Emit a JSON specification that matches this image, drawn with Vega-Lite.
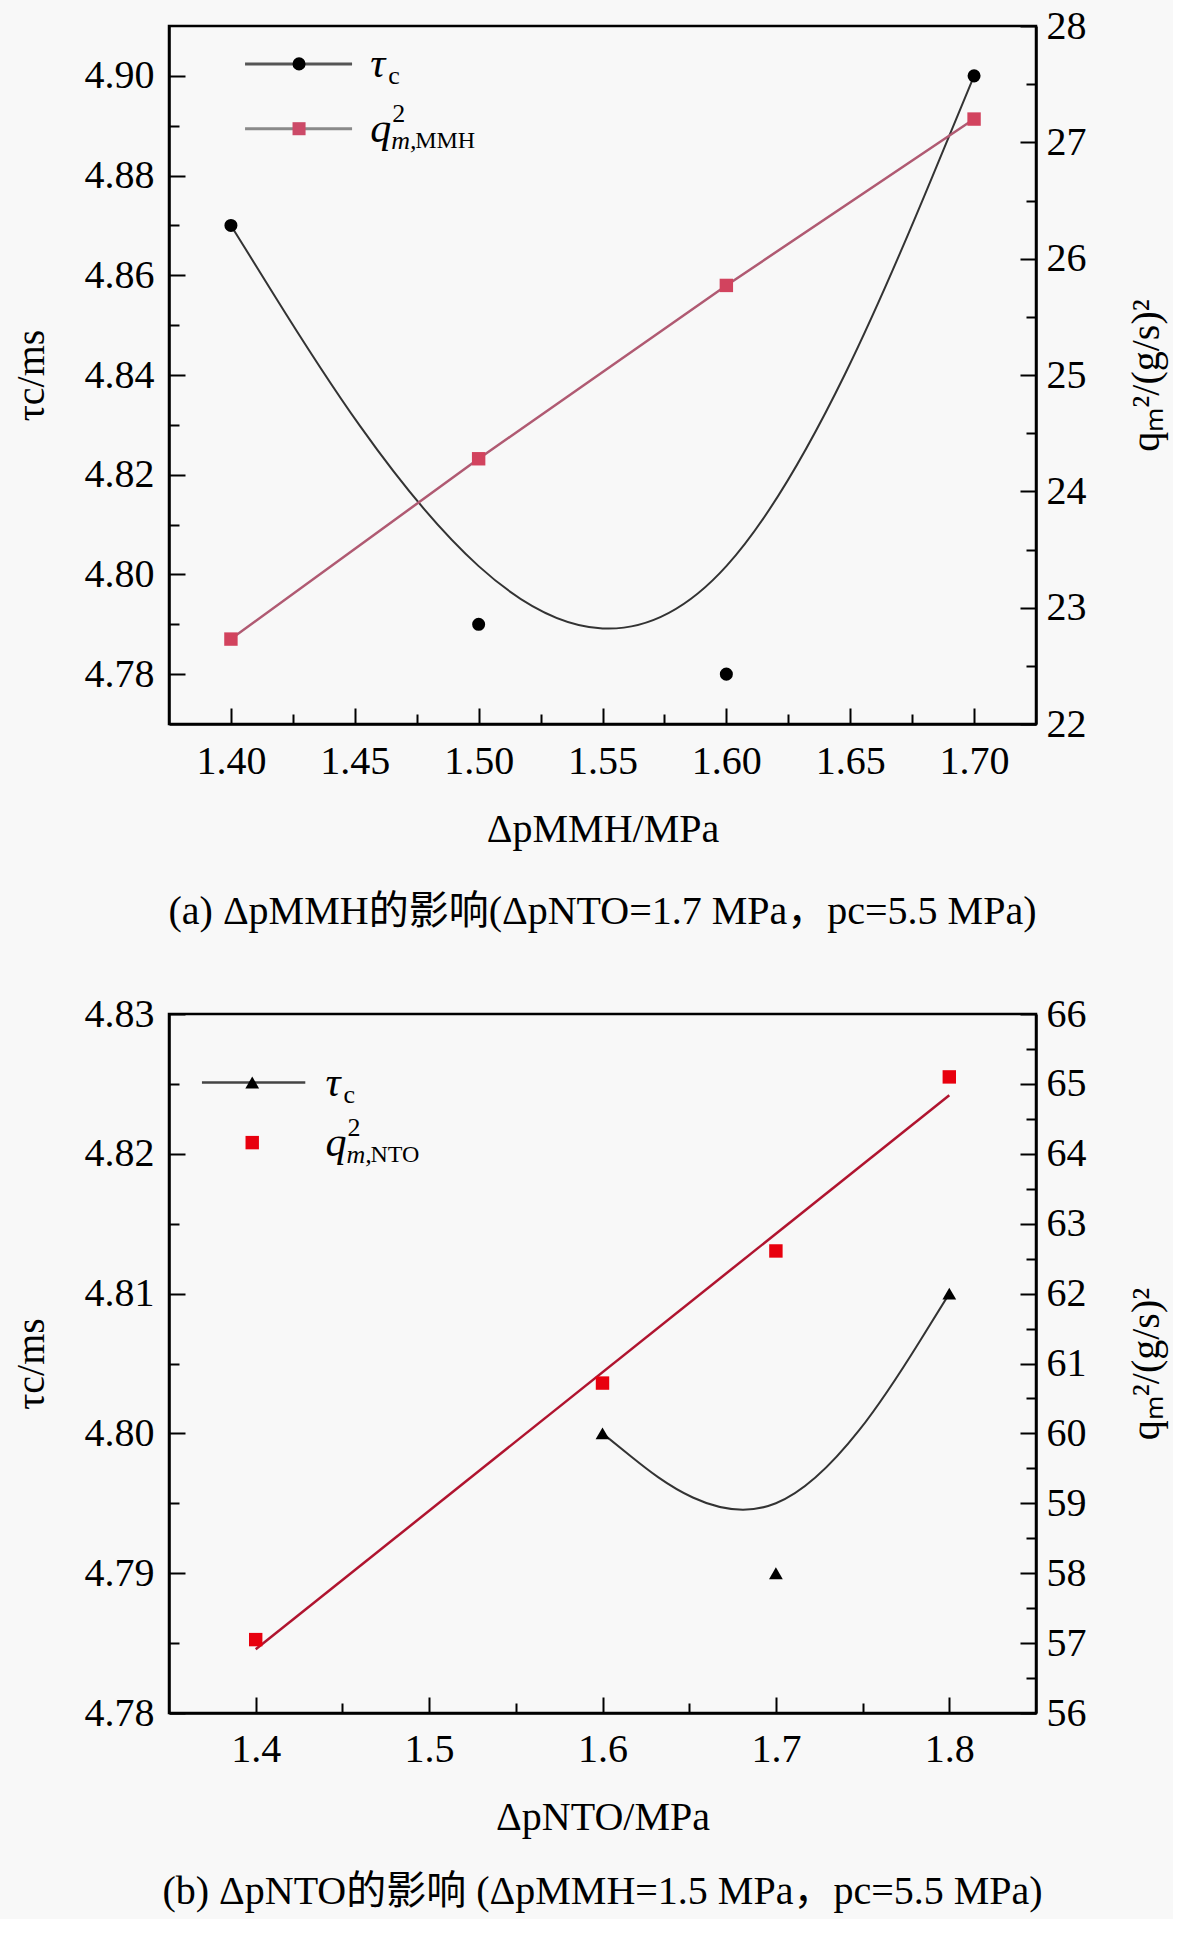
{
  "$schema": "https://vega.github.io/schema/vega-lite/v6.json",
  "background": "#f8f8f8",
  "padding": {"left": 9, "top": 4, "right": 5, "bottom": 5},
  "spacing": 58,
  "config": {
    "font": "Liberation Serif",
    "view": {"stroke": "black", "strokeWidth": 2.5},
    "axis": {
      "grid": false,
      "domainColor": "black",
      "domainWidth": 2.5,
      "tickColor": "black",
      "tickWidth": 2,
      "labelFont": "Liberation Serif",
      "labelFontSize": 40,
      "labelColor": "black",
      "labelFlush": false,
      "labelOverlap": false,
      "titleFont": "Liberation Serif",
      "titleFontSize": 40,
      "titleFontWeight": "normal",
      "titleColor": "black"
    },
    "title": {"font": "Liberation Serif, Noto Sans CJK SC", "fontSize": 40, "fontWeight": "normal", "color": "black"}
  },
  "datasets": {
    "tauA": [
      {"dp": 1.4, "tau": 4.87},
      {"dp": 1.5, "tau": 4.79},
      {"dp": 1.6, "tau": 4.78},
      {"dp": 1.7, "tau": 4.9}
    ],
    "qA": [
      {"dp": 1.4, "q2": 22.73},
      {"dp": 1.5, "q2": 24.28},
      {"dp": 1.6, "q2": 25.77},
      {"dp": 1.7, "q2": 27.2}
    ],
    "tauB": [
      {"dp": 1.6, "tau": 4.8},
      {"dp": 1.7, "tau": 4.79},
      {"dp": 1.8, "tau": 4.81}
    ],
    "qB": [
      {"dp": 1.4, "q2": 57.05},
      {"dp": 1.6, "q2": 60.72},
      {"dp": 1.7, "q2": 62.61},
      {"dp": 1.8, "q2": 65.1}
    ]
  },
  "vconcat": [
    {
      "width": 867,
      "height": 698,
      "title": {"text": "(a) ΔpMMH的影响(ΔpNTO=1.7 MPa，pc=5.5 MPa)", "orient": "bottom", "offset": 43},
      "layer": [
        {
          "data": {"name": "tauA"},
          "layer": [
            {
              "mark": {"type": "line", "interpolate": "basis", "color": "#333333", "strokeWidth": 2},
              "encoding": {
                "x": {
                  "field": "dp",
                  "type": "quantitative",
                  "scale": {"domain": [1.375, 1.725], "nice": false, "zero": false},
                  "axis": {
                    "title": "ΔpMMH/MPa",
                    "titlePadding": 22,
                    "values": [1.4, 1.425, 1.45, 1.475, 1.5, 1.525, 1.55, 1.575, 1.6, 1.625, 1.65, 1.675, 1.7],
                    "labelExpr": "abs(datum.value*20-round(datum.value*20))<0.001 ? format(datum.value,'.2f') : ''",
                    "labelPadding": 33,
                    "tickSize": {"condition": {"test": "abs(datum.value*20-round(datum.value*20))<0.001", "value": -16}, "value": -10}
                  }
                },
                "y": {
                  "field": "tau",
                  "type": "quantitative",
                  "scale": {"domain": [4.77, 4.91], "nice": false, "zero": false},
                  "axis": {
                    "orient": "left",
                    "title": "τc/ms",
                    "titlePadding": 33,
                    "values": [4.78, 4.79, 4.8, 4.81, 4.82, 4.83, 4.84, 4.85, 4.86, 4.87, 4.88, 4.89, 4.9],
                    "labelExpr": "abs(datum.value*50-round(datum.value*50))<0.001 ? format(datum.value,'.2f') : ''",
                    "labelPadding": 31,
                    "tickSize": {"condition": {"test": "abs(datum.value*50-round(datum.value*50))<0.001", "value": -16}, "value": -10}
                  }
                }
              }
            },
            {
              "mark": {"type": "point", "shape": "circle", "filled": true, "color": "black", "size": 170, "opacity": 1},
              "encoding": {
                "x": {"field": "dp", "type": "quantitative", "scale": {"domain": [1.375, 1.725], "nice": false, "zero": false}},
                "y": {"field": "tau", "type": "quantitative", "scale": {"domain": [4.77, 4.91], "nice": false, "zero": false}}
              }
            },
            {
              "data": {"values": [{"name": "tau"}]},
              "mark": {"type": "rule", "color": "#555555", "strokeWidth": 3},
              "encoding": {
                "x": {"datum": 1.4057, "type": "quantitative", "scale": {"domain": [1.375, 1.725], "nice": false, "zero": false}},
                "x2": {"datum": 1.4489},
                "y": {"datum": 4.9024, "type": "quantitative", "scale": {"domain": [4.77, 4.91], "nice": false, "zero": false}}
              }
            },
            {
              "data": {"values": [{"name": "tau"}]},
              "mark": {"type": "point", "shape": "circle", "filled": true, "color": "black", "size": 170, "opacity": 1},
              "encoding": {
                "x": {"datum": 1.4275, "type": "quantitative", "scale": {"domain": [1.375, 1.725], "nice": false, "zero": false}},
                "y": {"datum": 4.9024, "type": "quantitative", "scale": {"domain": [4.77, 4.91], "nice": false, "zero": false}}
              }
            },
            {
              "data": {"values": [{"name": "q2"}]},
              "mark": {"type": "rule", "color": "#8a8a8a", "strokeWidth": 3},
              "encoding": {
                "x": {"datum": 1.4057, "type": "quantitative", "scale": {"domain": [1.375, 1.725], "nice": false, "zero": false}},
                "x2": {"datum": 1.4489},
                "y": {"datum": 4.8894, "type": "quantitative", "scale": {"domain": [4.77, 4.91], "nice": false, "zero": false}}
              }
            },
            {
              "data": {"values": [{"name": "q2"}]},
              "mark": {"type": "point", "shape": "square", "filled": true, "color": "#cc4a68", "size": 170, "opacity": 1},
              "encoding": {
                "x": {"datum": 1.4275, "type": "quantitative", "scale": {"domain": [1.375, 1.725], "nice": false, "zero": false}},
                "y": {"datum": 4.8894, "type": "quantitative", "scale": {"domain": [4.77, 4.91], "nice": false, "zero": false}}
              }
            },
            {
              "data": {"values": [{"t": "τ", "s": "c"}]},
              "encoding": {
                "x": {"datum": 1.4562, "type": "quantitative", "scale": {"domain": [1.375, 1.725], "nice": false, "zero": false}},
                "y": {"datum": 4.9024, "type": "quantitative", "scale": {"domain": [4.77, 4.91], "nice": false, "zero": false}}
              },
              "layer": [
                {"mark": {"type": "text", "align": "left", "baseline": "middle", "fontSize": 42, "fontStyle": "italic", "color": "black"}, "encoding": {"text": {"field": "t"}}},
                {"mark": {"type": "text", "align": "left", "baseline": "middle", "fontSize": 26, "dx": 18, "dy": 12, "color": "black"}, "encoding": {"text": {"field": "s"}}}
              ]
            },
            {
              "data": {"values": [{"t": "q", "sup": "2", "m": "m,", "s": "MMH"}]},
              "encoding": {
                "x": {"datum": 1.4562, "type": "quantitative", "scale": {"domain": [1.375, 1.725], "nice": false, "zero": false}},
                "y": {"datum": 4.8894, "type": "quantitative", "scale": {"domain": [4.77, 4.91], "nice": false, "zero": false}}
              },
              "layer": [
                {"mark": {"type": "text", "align": "left", "baseline": "middle", "fontSize": 42, "fontStyle": "italic", "color": "black"}, "encoding": {"text": {"field": "t"}}},
                {"mark": {"type": "text", "align": "left", "baseline": "middle", "fontSize": 26, "dx": 22, "dy": -15, "color": "black"}, "encoding": {"text": {"field": "sup"}}},
                {"mark": {"type": "text", "align": "left", "baseline": "middle", "fontSize": 26, "dx": 21, "dy": 12, "fontStyle": "italic", "color": "black"}, "encoding": {"text": {"field": "m"}}},
                {"mark": {"type": "text", "align": "left", "baseline": "middle", "fontSize": 24, "dx": 45, "dy": 12, "color": "black"}, "encoding": {"text": {"field": "s"}}}
              ]
            }
          ]
        },
        {
          "data": {"name": "qA"},
          "encoding": {
            "x": {"field": "dp", "type": "quantitative", "scale": {"domain": [1.375, 1.725], "nice": false, "zero": false}},
            "y": {
              "field": "q2",
              "type": "quantitative",
              "scale": {"domain": [22, 28], "nice": false, "zero": false},
              "axis": {
                "orient": "right",
                "title": "qₘ²/(g/s)²",
                "titleAngle": -90,
                "titleBaseline": "top",
                "titlePadding": 40,
                "values": [22, 22.5, 23, 23.5, 24, 24.5, 25, 25.5, 26, 26.5, 27, 27.5, 28],
                "labelExpr": "datum.value % 1 == 0 ? format(datum.value,'d') : ''",
                "labelPadding": 26,
                "tickSize": {"condition": {"test": "datum.value % 1 == 0", "value": -16}, "value": -10}
              }
            }
          },
          "layer": [
            {"mark": {"type": "line", "color": "#b05a72", "strokeWidth": 2.5}},
            {"mark": {"type": "point", "shape": "square", "filled": true, "color": "#d2435e", "size": 180, "opacity": 1}}
          ]
        }
      ],
      "resolve": {"scale": {"y": "independent"}}
    },
    {
      "width": 867,
      "height": 699,
      "title": {"text": "(b) ΔpNTO的影响 (ΔpMMH=1.5 MPa，pc=5.5 MPa)", "orient": "bottom", "offset": 35},
      "layer": [
        {
          "data": {"name": "tauB"},
          "layer": [
            {
              "mark": {"type": "line", "interpolate": "basis", "color": "#333333", "strokeWidth": 2},
              "encoding": {
                "x": {
                  "field": "dp",
                  "type": "quantitative",
                  "scale": {"domain": [1.35, 1.85], "nice": false, "zero": false},
                  "axis": {
                    "title": "ΔpNTO/MPa",
                    "titlePadding": 22,
                    "values": [1.4, 1.45, 1.5, 1.55, 1.6, 1.65, 1.7, 1.75, 1.8],
                    "labelExpr": "abs(datum.value*10-round(datum.value*10))<0.001 ? format(datum.value,'.1f') : ''",
                    "labelPadding": 32,
                    "tickSize": {"condition": {"test": "abs(datum.value*10-round(datum.value*10))<0.001", "value": -16}, "value": -10}
                  }
                },
                "y": {
                  "field": "tau",
                  "type": "quantitative",
                  "scale": {"domain": [4.78, 4.83], "nice": false, "zero": false},
                  "axis": {
                    "orient": "left",
                    "title": "τc/ms",
                    "titlePadding": 33,
                    "values": [4.78, 4.785, 4.79, 4.795, 4.8, 4.805, 4.81, 4.815, 4.82, 4.825, 4.83],
                    "labelExpr": "abs(datum.value*100-round(datum.value*100))<0.001 ? format(datum.value,'.2f') : ''",
                    "labelPadding": 31,
                    "tickSize": {"condition": {"test": "abs(datum.value*100-round(datum.value*100))<0.001", "value": -16}, "value": -10}
                  }
                }
              }
            },
            {
              "mark": {"type": "point", "shape": "triangle-up", "filled": true, "color": "black", "size": 190, "opacity": 1},
              "encoding": {
                "x": {"field": "dp", "type": "quantitative", "scale": {"domain": [1.35, 1.85], "nice": false, "zero": false}},
                "y": {"field": "tau", "type": "quantitative", "scale": {"domain": [4.78, 4.83], "nice": false, "zero": false}}
              }
            },
            {
              "data": {"values": [{"name": "tau"}]},
              "mark": {"type": "rule", "color": "#444444", "strokeWidth": 2.5},
              "encoding": {
                "x": {"datum": 1.369, "type": "quantitative", "scale": {"domain": [1.35, 1.85], "nice": false, "zero": false}},
                "x2": {"datum": 1.4286},
                "y": {"datum": 4.8251, "type": "quantitative", "scale": {"domain": [4.78, 4.83], "nice": false, "zero": false}}
              }
            },
            {
              "data": {"values": [{"name": "tau"}]},
              "mark": {"type": "point", "shape": "triangle-up", "filled": true, "color": "black", "size": 190, "opacity": 1},
              "encoding": {
                "x": {"datum": 1.398, "type": "quantitative", "scale": {"domain": [1.35, 1.85], "nice": false, "zero": false}},
                "y": {"datum": 4.8251, "type": "quantitative", "scale": {"domain": [4.78, 4.83], "nice": false, "zero": false}}
              }
            },
            {
              "data": {"values": [{"name": "q2"}]},
              "mark": {"type": "point", "shape": "square", "filled": true, "color": "#e8000e", "size": 180, "opacity": 1},
              "encoding": {
                "x": {"datum": 1.398, "type": "quantitative", "scale": {"domain": [1.35, 1.85], "nice": false, "zero": false}},
                "y": {"datum": 4.8208, "type": "quantitative", "scale": {"domain": [4.78, 4.83], "nice": false, "zero": false}}
              }
            },
            {
              "data": {"values": [{"t": "τ", "s": "c"}]},
              "encoding": {
                "x": {"datum": 1.4402, "type": "quantitative", "scale": {"domain": [1.35, 1.85], "nice": false, "zero": false}},
                "y": {"datum": 4.8251, "type": "quantitative", "scale": {"domain": [4.78, 4.83], "nice": false, "zero": false}}
              },
              "layer": [
                {"mark": {"type": "text", "align": "left", "baseline": "middle", "fontSize": 42, "fontStyle": "italic", "color": "black"}, "encoding": {"text": {"field": "t"}}},
                {"mark": {"type": "text", "align": "left", "baseline": "middle", "fontSize": 26, "dx": 18, "dy": 12, "color": "black"}, "encoding": {"text": {"field": "s"}}}
              ]
            },
            {
              "data": {"values": [{"t": "q", "sup": "2", "m": "m,", "s": "NTO"}]},
              "encoding": {
                "x": {"datum": 1.4402, "type": "quantitative", "scale": {"domain": [1.35, 1.85], "nice": false, "zero": false}},
                "y": {"datum": 4.8208, "type": "quantitative", "scale": {"domain": [4.78, 4.83], "nice": false, "zero": false}}
              },
              "layer": [
                {"mark": {"type": "text", "align": "left", "baseline": "middle", "fontSize": 42, "fontStyle": "italic", "color": "black"}, "encoding": {"text": {"field": "t"}}},
                {"mark": {"type": "text", "align": "left", "baseline": "middle", "fontSize": 26, "dx": 22, "dy": -15, "color": "black"}, "encoding": {"text": {"field": "sup"}}},
                {"mark": {"type": "text", "align": "left", "baseline": "middle", "fontSize": 26, "dx": 21, "dy": 12, "fontStyle": "italic", "color": "black"}, "encoding": {"text": {"field": "m"}}},
                {"mark": {"type": "text", "align": "left", "baseline": "middle", "fontSize": 24, "dx": 45, "dy": 12, "color": "black"}, "encoding": {"text": {"field": "s"}}}
              ]
            }
          ]
        },
        {
          "data": {"name": "qB"},
          "encoding": {
            "x": {"field": "dp", "type": "quantitative", "scale": {"domain": [1.35, 1.85], "nice": false, "zero": false}},
            "y": {
              "field": "q2",
              "type": "quantitative",
              "scale": {"domain": [56, 66], "nice": false, "zero": false},
              "axis": {
                "orient": "right",
                "title": "qₘ²/(g/s)²",
                "titleAngle": -90,
                "titleBaseline": "top",
                "titlePadding": 40,
                "values": [56, 56.5, 57, 57.5, 58, 58.5, 59, 59.5, 60, 60.5, 61, 61.5, 62, 62.5, 63, 63.5, 64, 64.5, 65, 65.5, 66],
                "labelExpr": "datum.value % 1 == 0 ? format(datum.value,'d') : ''",
                "labelPadding": 26,
                "tickSize": {"condition": {"test": "datum.value % 1 == 0", "value": -16}, "value": -10}
              }
            }
          },
          "layer": [
            {
              "transform": [{"regression": "q2", "on": "dp"}],
              "mark": {"type": "line", "color": "#b0142f", "strokeWidth": 2.5},
              "encoding": {}
            },
            {"mark": {"type": "point", "shape": "square", "filled": true, "color": "#e8000e", "size": 180, "opacity": 1}}
          ]
        }
      ],
      "resolve": {"scale": {"y": "independent"}}
    }
  ]
}
